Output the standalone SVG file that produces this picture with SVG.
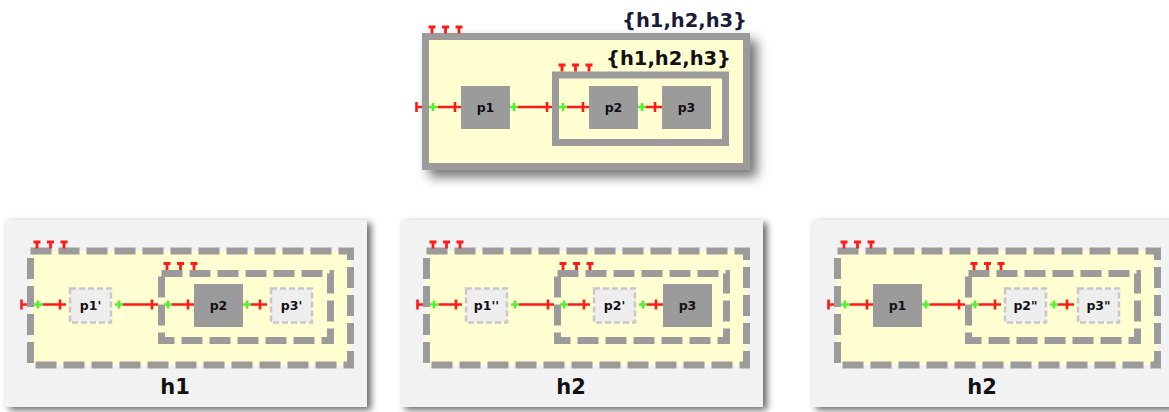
<svg xmlns="http://www.w3.org/2000/svg" xmlns:xlink="http://www.w3.org/1999/xlink" width="1169" height="412" viewBox="0 0 1169 412">
<style>
.bold{font-family:"DejaVu Sans","Liberation Sans",sans-serif;font-weight:bold}
.plbl{font-size:12.5px;text-anchor:middle;fill:#111}
.hlbl{font-size:21px;text-anchor:middle;fill:#111}
.set{font-size:19.5px;text-anchor:end}
.frame{fill:#ffffd2;stroke:#9b9b9b;stroke-width:7}
.inframe{fill:none;stroke:#9b9b9b;stroke-width:7}
.dash{stroke-dasharray:21 7}
.solid{fill:#9b9b9b}
.ghost{fill:#eeeeee;stroke:#c8c8c8;stroke-width:2.5;stroke-dasharray:6 3}
.panel{fill:#f2f2f2}
.red{fill:none;stroke:#ff1a1a;stroke-width:2.6}
.green{fill:none;stroke:#55ee33;stroke-width:2.6}
</style>
<defs>
<filter id="sh1" x="-10%" y="-20%" width="130%" height="150%">
<feDropShadow dx="7" dy="7" stdDeviation="6" flood-color="#000" flood-opacity="0.55"/>
</filter>
<filter id="sh2" x="-10%" y="-15%" width="130%" height="140%">
<feDropShadow dx="4" dy="3" stdDeviation="3.5" flood-color="#000" flood-opacity="0.6"/>
</filter>
<path id="tee" d="M-3.5 0H3.5M0 0V6.5" stroke="#ff1a1a" stroke-width="2.8" fill="none"/>
<path id="rt" d="M0 -5V5" stroke="#ff1a1a" stroke-width="2.6" fill="none"/>
<path id="gt" d="M0 -4V4" stroke="#55ee33" stroke-width="2.6" fill="none"/>
</defs>
<rect width="1169" height="412" fill="#ffffff"/>

<!-- Top diagram -->
<g id="top">
  <g id="top-outer">
    <rect class="frame" x="425.5" y="36.5" width="321" height="130" filter="url(#sh1)"/>
    <rect class="frame" x="425.5" y="36.5" width="321" height="130"/>
    <text class="bold set" x="747" y="27" fill="#1a1a3a">{h1,h2,h3}</text>
    <use xlink:href="#tee" x="432" y="27"/>
    <use xlink:href="#tee" x="445.5" y="27"/>
    <use xlink:href="#tee" x="459" y="27"/>
  </g>
  <g id="top-inner">
    <rect class="inframe" x="555.5" y="75" width="170" height="67.5"/>
    <text class="bold set" x="731" y="65" fill="#111">{h1,h2,h3}</text>
    <use xlink:href="#tee" x="562" y="65"/>
    <use xlink:href="#tee" x="575.5" y="65"/>
    <use xlink:href="#tee" x="589" y="65"/>
  </g>
  <g id="top-p1"><rect class="solid" x="461" y="86" width="49" height="43"/><text class="bold plbl" x="485.5" y="111.5">p1</text></g>
  <g id="top-p2"><rect class="solid" x="589" y="86" width="49" height="43"/><text class="bold plbl" x="613.5" y="111.5">p2</text></g>
  <g id="top-p3"><rect class="solid" x="662" y="86" width="49" height="43"/><text class="bold plbl" x="686.5" y="111.5">p3</text></g>
  <g id="top-connectors">
    <path class="red" d="M416.5 107H422M438 107H461M518 107H552M567 107H589M646 107H662"/>
    <path class="green" d="M429 107H438M510 107H518M559 107H567M638 107H646"/>
    <use xlink:href="#rt" x="416.5" y="107"/><use xlink:href="#rt" x="455" y="107"/><use xlink:href="#rt" x="547" y="107"/><use xlink:href="#rt" x="583" y="107"/><use xlink:href="#rt" x="655" y="107"/>
    <use xlink:href="#gt" x="433" y="107"/><use xlink:href="#gt" x="514" y="107"/><use xlink:href="#gt" x="563" y="107"/><use xlink:href="#gt" x="642" y="107"/>
  </g>
</g>

<!-- Panel h1 -->
<g id="panel-h1" transform="translate(-395,0)">
  <rect class="panel" x="400" y="220" width="362" height="187" filter="url(#sh2)"/>
  <g id="h1-outer">
    <rect class="frame dash" x="425.5" y="251" width="320" height="114"/>
    <use xlink:href="#tee" x="432" y="242"/><use xlink:href="#tee" x="445.5" y="242"/><use xlink:href="#tee" x="459" y="242"/>
  </g>
  <g id="h1-inner">
    <rect class="inframe dash" x="556.5" y="273.5" width="169" height="67"/>
    <use xlink:href="#tee" x="562" y="263.5"/><use xlink:href="#tee" x="575.5" y="263.5"/><use xlink:href="#tee" x="589" y="263.5"/>
  </g>
  <g id="h1-p1"><rect class="ghost" x="465" y="288.5" width="41" height="34"/><text class="bold plbl" x="485.5" y="309.5">p1'</text></g>
  <g id="h1-p2"><rect class="solid" x="589" y="284" width="49" height="43"/><text class="bold plbl" x="613.5" y="309.5">p2</text></g>
  <g id="h1-p3"><rect class="ghost" x="666" y="288.5" width="41" height="34"/><text class="bold plbl" x="686.5" y="309.5">p3'</text></g>
  <g id="h1-connectors">
    <path class="red" d="M416.5 304.5H422M438 304.5H461M518 304.5H553M567 304.5H589M646 304.5H662"/>
    <path class="green" d="M429 304.5H438M510 304.5H518M559 304.5H567M638 304.5H646"/>
    <use xlink:href="#rt" x="416.5" y="304.5"/><use xlink:href="#rt" x="455" y="304.5"/><use xlink:href="#rt" x="547" y="304.5"/><use xlink:href="#rt" x="583" y="304.5"/><use xlink:href="#rt" x="655" y="304.5"/>
    <use xlink:href="#gt" x="433" y="304.5"/><use xlink:href="#gt" x="514" y="304.5"/><use xlink:href="#gt" x="563" y="304.5"/><use xlink:href="#gt" x="642" y="304.5"/>
  </g>
  <text class="bold hlbl" x="570" y="394">h1</text>
</g>

<!-- Panel h2 (middle) -->
<g id="panel-h2a" transform="translate(1,0)">
  <rect class="panel" x="400" y="220" width="362" height="187" filter="url(#sh2)"/>
  <g id="h2a-outer">
    <rect class="frame dash" x="425.5" y="251" width="320" height="114"/>
    <use xlink:href="#tee" x="432" y="242"/><use xlink:href="#tee" x="445.5" y="242"/><use xlink:href="#tee" x="459" y="242"/>
  </g>
  <g id="h2a-inner">
    <rect class="inframe dash" x="556.5" y="273.5" width="169" height="67"/>
    <use xlink:href="#tee" x="562" y="263.5"/><use xlink:href="#tee" x="575.5" y="263.5"/><use xlink:href="#tee" x="589" y="263.5"/>
  </g>
  <g id="h2a-p1"><rect class="ghost" x="465" y="288.5" width="41" height="34"/><text class="bold plbl" x="485.5" y="309.5">p1''</text></g>
  <g id="h2a-p2"><rect class="ghost" x="593" y="288.5" width="41" height="34"/><text class="bold plbl" x="613.5" y="309.5">p2'</text></g>
  <g id="h2a-p3"><rect class="solid" x="662" y="284" width="49" height="43"/><text class="bold plbl" x="686.5" y="309.5">p3</text></g>
  <g id="h2a-connectors">
    <path class="red" d="M416.5 304.5H422M438 304.5H461M518 304.5H553M567 304.5H589M646 304.5H662"/>
    <path class="green" d="M429 304.5H438M510 304.5H518M559 304.5H567M638 304.5H646"/>
    <use xlink:href="#rt" x="416.5" y="304.5"/><use xlink:href="#rt" x="455" y="304.5"/><use xlink:href="#rt" x="547" y="304.5"/><use xlink:href="#rt" x="583" y="304.5"/><use xlink:href="#rt" x="655" y="304.5"/>
    <use xlink:href="#gt" x="433" y="304.5"/><use xlink:href="#gt" x="514" y="304.5"/><use xlink:href="#gt" x="563" y="304.5"/><use xlink:href="#gt" x="642" y="304.5"/>
  </g>
  <text class="bold hlbl" x="570" y="394">h2</text>
</g>

<!-- Panel h2 (right) -->
<g id="panel-h2b" transform="translate(412,0)">
  <rect class="panel" x="400" y="220" width="362" height="187" filter="url(#sh2)"/>
  <g id="h2b-outer">
    <rect class="frame dash" x="425.5" y="251" width="320" height="114"/>
    <use xlink:href="#tee" x="432" y="242"/><use xlink:href="#tee" x="445.5" y="242"/><use xlink:href="#tee" x="459" y="242"/>
  </g>
  <g id="h2b-inner">
    <rect class="inframe dash" x="556.5" y="273.5" width="169" height="67"/>
    <use xlink:href="#tee" x="562" y="263.5"/><use xlink:href="#tee" x="575.5" y="263.5"/><use xlink:href="#tee" x="589" y="263.5"/>
  </g>
  <g id="h2b-p1"><rect class="solid" x="461" y="284" width="49" height="43"/><text class="bold plbl" x="485.5" y="309.5">p1</text></g>
  <g id="h2b-p2"><rect class="ghost" x="593" y="288.5" width="41" height="34"/><text class="bold plbl" x="613.5" y="309.5">p2"</text></g>
  <g id="h2b-p3"><rect class="ghost" x="666" y="288.5" width="41" height="34"/><text class="bold plbl" x="686.5" y="309.5">p3"</text></g>
  <g id="h2b-connectors">
    <path class="red" d="M416.5 304.5H422M438 304.5H461M518 304.5H553M567 304.5H589M646 304.5H662"/>
    <path class="green" d="M429 304.5H438M510 304.5H518M559 304.5H567M638 304.5H646"/>
    <use xlink:href="#rt" x="416.5" y="304.5"/><use xlink:href="#rt" x="455" y="304.5"/><use xlink:href="#rt" x="547" y="304.5"/><use xlink:href="#rt" x="583" y="304.5"/><use xlink:href="#rt" x="655" y="304.5"/>
    <use xlink:href="#gt" x="433" y="304.5"/><use xlink:href="#gt" x="514" y="304.5"/><use xlink:href="#gt" x="563" y="304.5"/><use xlink:href="#gt" x="642" y="304.5"/>
  </g>
  <text class="bold hlbl" x="570" y="394">h2</text>
</g>
</svg>
